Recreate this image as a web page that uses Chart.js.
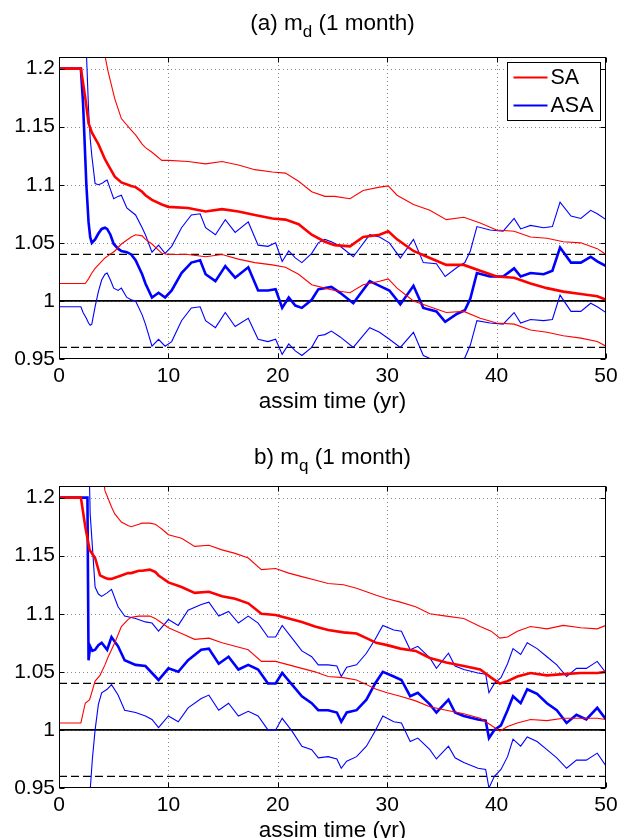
<!DOCTYPE html>
<html>
<head>
<meta charset="utf-8">
<script src="https://cdn.jsdelivr.net/npm/chart.js@4.4.1/dist/chart.umd.min.js"></script>
<style>
  html, body { margin: 0; padding: 0; background: #fff; overflow: hidden; }
  body { width: 627px; height: 838px; position: relative; font-family: "Liberation Sans", Arial, sans-serif; }
  canvas { position: absolute; left: 0; }
  .ttl { position: absolute; left: 59px; width: 547px; text-align: center; font-size: 22.5px; line-height: 22px; color: #000; white-space: nowrap; z-index: 2; }
  .ttl sub { font-size: 17px; vertical-align: baseline; position: relative; top: 7px; }
</style>
</head>
<body>
<canvas id="chartA" width="627" height="430" style="top:0"></canvas>
<canvas id="chartB" width="627" height="430" style="top:429px"></canvas>
<div class="ttl" style="top:12px">(a) m<sub>d</sub> (1 month)</div>
<div class="ttl" style="top:446px">b) m<sub>q</sub> (1 month)</div>
<script>
// axis ticks
const xTicks = [0, 10, 20, 30, 40, 50];
const yTicks = [0.95, 1, 1.05, 1.1, 1.15, 1.2];
const yTickLabels = ['0.95', '1', '1.05', '1.1', '1.15', '1.2'];
const legendLabels = ['SA', 'ASA'];

// reference levels (solid at 1, dashed at 1.04 / 0.96)
const refX = [0, 50];
const refSolid = 1;
const refDashed = [1.04, 0.96];

// (a) m_d : SA
const aSaTime = [0, 2, 2.4, 2.7, 3.0, 3.3, 3.6, 4.2, 4.5, 5.1, 5.7, 6.6, 7.0, 7.6, 7.9, 8.5, 9.4, 10, 11.8, 13.4, 14.9, 16.4, 17.9, 19.5, 20.7, 21.9, 23.1, 24.3, 25.2, 26.6, 27.8, 29.3, 30.1, 30.9, 32.4, 33.9, 35.4, 37, 38.5, 40, 41.6, 43.1, 44.6, 46.1, 47.7, 49.2, 50];
const aSaMean = [1.2, 1.2, 1.175, 1.153, 1.145, 1.140, 1.135, 1.122, 1.117, 1.107, 1.102, 1.099, 1.098, 1.094, 1.091, 1.087, 1.083, 1.081, 1.080, 1.077, 1.079, 1.077, 1.074, 1.071, 1.070, 1.066, 1.057, 1.051, 1.048, 1.047, 1.055, 1.057, 1.060, 1.053, 1.043, 1.037, 1.031, 1.031, 1.026, 1.021, 1.020, 1.015, 1.011, 1.008, 1.006, 1.004, 1.001];
const aSaUpper = [1.38, 1.38, 1.34, 1.31, 1.28, 1.26, 1.24, 1.211, 1.197, 1.174, 1.157, 1.147, 1.143, 1.135, 1.132, 1.128, 1.121, 1.121, 1.120, 1.118, 1.120, 1.117, 1.113, 1.111, 1.110, 1.103, 1.094, 1.090, 1.090, 1.088, 1.095, 1.098, 1.099, 1.091, 1.083, 1.078, 1.070, 1.072, 1.067, 1.061, 1.060, 1.055, 1.054, 1.051, 1.050, 1.045, 1.040];
const aSaLower = [1.015, 1.015, 1.015, 1.019, 1.024, 1.028, 1.031, 1.037, 1.039, 1.043, 1.049, 1.055, 1.057, 1.056, 1.053, 1.049, 1.041, 1.040, 1.040, 1.038, 1.040, 1.036, 1.033, 1.031, 1.029, 1.023, 1.014, 1.011, 1.009, 1.007, 1.014, 1.017, 1.019, 1.011, 1.000, 0.995, 0.990, 0.991, 0.985, 0.981, 0.980, 0.975, 0.973, 0.970, 0.968, 0.965, 0.961];

// (a) m_d : ASA
const aAsaTime = [0, 2.0, 2.2, 2.5, 2.7, 2.85, 3.0, 3.3, 3.6, 3.9, 4.2, 4.4, 4.7, 5.0, 5.4, 5.7, 6.2, 6.6, 7.0, 7.6, 7.9, 8.5, 9.1, 9.7, 10.3, 11.2, 12.1, 12.9, 13.4, 14.3, 15.2, 16.1, 17.3, 18.2, 19.1, 19.8, 20.4, 21.0, 21.6, 22.2, 23.1, 23.7, 24.3, 24.9, 25.7, 26.9, 28.4, 29.3, 30.2, 31.2, 32.4, 33.3, 34.5, 35.3, 36.4, 37.1, 37.6, 38.2, 39.4, 40.6, 41.6, 42.2, 43.1, 44.3, 45.1, 45.8, 46.8, 47.7, 48.6, 49.2, 50];
const aAsaMean = [1.2, 1.2, 1.17, 1.10, 1.068, 1.055, 1.050, 1.053, 1.058, 1.062, 1.063, 1.062, 1.057, 1.049, 1.045, 1.043, 1.042, 1.040, 1.035, 1.023, 1.015, 1.003, 1.007, 1.003, 1.009, 1.024, 1.033, 1.035, 1.023, 1.017, 1.030, 1.020, 1.029, 1.009, 1.009, 1.010, 0.994, 1.003, 0.996, 0.994, 1.001, 1.010, 1.011, 1.012, 1.007, 0.998, 1.017, 1.013, 1.009, 0.997, 1.013, 0.994, 0.991, 0.982, 0.989, 0.992, 1.002, 1.024, 1.021, 1.021, 1.028, 1.021, 1.024, 1.023, 1.026, 1.046, 1.033, 1.033, 1.038, 1.034, 1.030];
const aAsaUpper = [1.40, 1.40, 1.36, 1.215, 1.165, 1.14, 1.125, 1.101, 1.100, 1.101, 1.103, 1.104, 1.096, 1.088, 1.090, 1.091, 1.080, 1.077, 1.074, 1.063, 1.057, 1.042, 1.048, 1.041, 1.047, 1.063, 1.074, 1.075, 1.063, 1.057, 1.070, 1.059, 1.068, 1.048, 1.047, 1.050, 1.034, 1.043, 1.037, 1.033, 1.041, 1.050, 1.053, 1.051, 1.047, 1.038, 1.057, 1.055, 1.050, 1.037, 1.053, 1.033, 1.032, 1.021, 1.029, 1.033, 1.043, 1.064, 1.061, 1.060, 1.071, 1.062, 1.065, 1.063, 1.064, 1.085, 1.073, 1.071, 1.078, 1.075, 1.070];
const aAsaLower = [0.995, 0.995, 0.990, 0.985, 0.981, 0.979, 0.980, 0.995, 1.008, 1.018, 1.023, 1.024, 1.018, 1.011, 1.009, 1.011, 1.003, 1.001, 1.000, 0.988, 0.980, 0.961, 0.967, 0.961, 0.965, 0.983, 0.994, 0.995, 0.983, 0.977, 0.990, 0.978, 0.985, 0.967, 0.965, 0.967, 0.954, 0.963, 0.957, 0.953, 0.960, 0.970, 0.971, 0.974, 0.969, 0.960, 0.977, 0.973, 0.967, 0.960, 0.973, 0.953, 0.948, 0.941, 0.947, 0.951, 0.962, 0.983, 0.981, 0.980, 0.990, 0.981, 0.984, 0.983, 0.984, 1.005, 0.991, 0.991, 0.998, 0.995, 0.990];

// (b) m_q : SA
const bSaTime = [0, 2.0, 2.4, 2.8, 3.3, 3.75, 4.2, 4.5, 4.8, 5.1, 5.7, 6.3, 6.6, 7.3, 7.6, 8.3, 8.8, 9.1, 9.4, 10, 11.2, 12.4, 13.7, 14.9, 16.1, 17.3, 18.5, 19.8, 21, 22.2, 23.4, 24.6, 26, 27.2, 28.1, 29, 30, 31.2, 32.6, 33.9, 35.4, 37, 38.5, 39.5, 40.3, 41, 41.9, 43.1, 44.6, 46.1, 47.7, 49.2, 50];
const bSaMean = [1.2, 1.2, 1.175, 1.155, 1.148, 1.133, 1.131, 1.130, 1.130, 1.131, 1.133, 1.135, 1.135, 1.137, 1.137, 1.138, 1.136, 1.133, 1.131, 1.127, 1.123, 1.118, 1.119, 1.115, 1.113, 1.109, 1.100, 1.099, 1.096, 1.093, 1.089, 1.086, 1.084, 1.083, 1.079, 1.075, 1.073, 1.070, 1.068, 1.062, 1.058, 1.055, 1.052, 1.045, 1.040, 1.042, 1.046, 1.049, 1.047, 1.048, 1.049, 1.049, 1.050];
const bSaUpper = [1.38, 1.38, 1.35, 1.32, 1.28, 1.24, 1.206, 1.199, 1.192, 1.186, 1.179, 1.176, 1.175, 1.177, 1.178, 1.178, 1.177, 1.175, 1.173, 1.168, 1.165, 1.158, 1.159, 1.155, 1.152, 1.148, 1.138, 1.139, 1.135, 1.132, 1.129, 1.126, 1.125, 1.122, 1.119, 1.116, 1.113, 1.110, 1.106, 1.100, 1.098, 1.096, 1.089, 1.085, 1.079, 1.080, 1.085, 1.089, 1.087, 1.090, 1.088, 1.087, 1.090];
const bSaLower = [1.006, 1.006, 1.023, 1.026, 1.042, 1.047, 1.056, 1.063, 1.069, 1.075, 1.089, 1.095, 1.097, 1.098, 1.098, 1.098, 1.096, 1.094, 1.092, 1.088, 1.083, 1.078, 1.079, 1.075, 1.072, 1.069, 1.059, 1.059, 1.056, 1.053, 1.050, 1.046, 1.045, 1.043, 1.039, 1.035, 1.032, 1.029, 1.025, 1.020, 1.017, 1.014, 1.010, 1.004, 0.999, 1.003, 1.006, 1.009, 1.008, 1.010, 1.010, 1.010, 1.009];

// (b) m_q : ASA
const bAsaTime = [0, 2.6, 2.7, 2.85, 3.05, 3.3, 3.6, 3.9, 4.4, 4.8, 5.4, 6.0, 7.0, 7.9, 8.5, 9.1, 10.0, 10.9, 11.8, 13.0, 13.7, 14.6, 15.5, 16.4, 17.3, 18.2, 19.1, 19.8, 20.4, 21.3, 22.2, 23.1, 23.7, 24.6, 25.4, 25.8, 26.3, 27.2, 28.1, 28.9, 29.6, 30.6, 31.3, 32.1, 32.8, 33.9, 34.5, 35.6, 36.2, 37.0, 38.3, 39.0, 39.3, 39.8, 40.4, 41.0, 41.5, 42.2, 42.8, 43.7, 44.6, 45.5, 46.4, 47.3, 48.2, 49.2, 50];
const bAsaMean = [1.2, 1.2, 1.060, 1.072, 1.068, 1.069, 1.073, 1.075, 1.069, 1.080, 1.072, 1.060, 1.056, 1.055, 1.049, 1.043, 1.053, 1.050, 1.060, 1.069, 1.070, 1.057, 1.063, 1.052, 1.056, 1.052, 1.040, 1.040, 1.049, 1.039, 1.029, 1.023, 1.017, 1.017, 1.015, 1.007, 1.015, 1.017, 1.026, 1.040, 1.050, 1.046, 1.043, 1.029, 1.032, 1.022, 1.015, 1.026, 1.015, 1.012, 1.009, 1.008, 0.993, 1.000, 1.004, 1.017, 1.029, 1.023, 1.035, 1.031, 1.023, 1.017, 1.006, 1.013, 1.009, 1.019, 1.009];
const bAsaUpper = [1.42, 1.42, 1.25, 1.186, 1.158, 1.123, 1.117, 1.115, 1.118, 1.121, 1.106, 1.098, 1.096, 1.093, 1.092, 1.085, 1.095, 1.090, 1.103, 1.108, 1.110, 1.098, 1.102, 1.092, 1.098, 1.092, 1.080, 1.080, 1.090, 1.079, 1.068, 1.063, 1.056, 1.056, 1.055, 1.046, 1.054, 1.056, 1.066, 1.078, 1.090, 1.086, 1.085, 1.069, 1.072, 1.062, 1.053, 1.066, 1.055, 1.052, 1.049, 1.048, 1.032, 1.040, 1.045, 1.057, 1.070, 1.065, 1.075, 1.070, 1.063, 1.056, 1.046, 1.053, 1.053, 1.059, 1.049];
const bAsaLower = [0.90, 0.90, 0.90, 0.948, 0.975, 1.000, 1.022, 1.032, 1.035, 1.039, 1.030, 1.017, 1.015, 1.012, 1.009, 1.002, 1.012, 1.007, 1.019, 1.027, 1.030, 1.017, 1.023, 1.012, 1.016, 1.012, 1.000, 1.000, 1.010, 0.999, 0.986, 0.983, 0.976, 0.977, 0.975, 0.967, 0.973, 0.977, 0.986, 0.999, 1.012, 1.007, 1.006, 0.990, 0.993, 0.983, 0.975, 0.986, 0.976, 0.972, 0.967, 0.966, 0.950, 0.960, 0.966, 0.977, 0.992, 0.986, 0.994, 0.990, 0.983, 0.976, 0.967, 0.974, 0.974, 0.980, 0.969];

const RED = '#ff0000';
const BLUE = '#0000ff';
const FONT = '"Liberation Sans", Arial, sans-serif';

function pts(t, v) {
    return t.map((x, i) => ({ x: x, y: v[i] }));
}

function line(t, v, color, width, dash) {
    return {
        data: pts(t, v),
        borderColor: color,
        borderWidth: width,
        borderDash: dash || [],
        pointRadius: 0,
        fill: false,
        tension: 0
    };
}

// grid, box, inward ticks and legend box
const framePlugin = {
    id: 'frame',
    beforeDatasetsDraw(chart) {
        const { ctx, chartArea: a, scales: { x, y } } = chart;
        ctx.save();
        ctx.strokeStyle = '#8a8a8a';
        ctx.lineWidth = 1;
        ctx.setLineDash([1, 3]);
        xTicks.forEach(v => {
            const px = Math.round(x.getPixelForValue(v)) + 0.5;
            if (px < a.left + 2 || px > a.right - 2) return;
            ctx.beginPath(); ctx.moveTo(px, a.top); ctx.lineTo(px, a.bottom); ctx.stroke();
        });
        yTicks.forEach(v => {
            const py = Math.round(y.getPixelForValue(v)) + 0.5;
            if (py < a.top + 2 || py > a.bottom - 2) return;
            ctx.beginPath(); ctx.moveTo(a.left, py); ctx.lineTo(a.right, py); ctx.stroke();
        });
        ctx.restore();
    },
    afterDatasetsDraw(chart, args, opts) {
        const { ctx, chartArea: a, scales: { x, y } } = chart;
        ctx.save();
        ctx.strokeStyle = '#000';
        ctx.lineWidth = 1;
        ctx.setLineDash([]);
        const L = Math.round(a.left) + 0.5, R = Math.round(a.right) - 0.5;
        const T = Math.round(a.top) + 0.5, B = Math.round(a.bottom) - 0.5;
        ctx.strokeRect(L, T, R - L, B - T);
        const tk = 5;
        ctx.beginPath();
        xTicks.forEach(v => {
            const px = Math.round(x.getPixelForValue(v)) + 0.5;
            ctx.moveTo(px, B); ctx.lineTo(px, B - tk);
            ctx.moveTo(px, T); ctx.lineTo(px, T + tk);
        });
        yTicks.forEach(v => {
            const py = Math.round(y.getPixelForValue(v)) + 0.5;
            ctx.moveTo(L, py); ctx.lineTo(L + tk, py);
            ctx.moveTo(R, py); ctx.lineTo(R - tk, py);
        });
        ctx.stroke();

        if (opts && opts.legend) {
            const w = 93, h = 58;
            const bx = Math.round(a.right - 6 - w) + 0.5, by = Math.round(a.top + 5) + 0.5;
            ctx.fillStyle = '#fff';
            ctx.fillRect(bx, by, w, h);
            ctx.strokeRect(bx, by, w, h);
            const colors = [RED, BLUE];
            ctx.font = '21.5px ' + FONT;
            ctx.textBaseline = 'middle';
            ctx.textAlign = 'left';
            legendLabels.forEach((lab, i) => {
                const ly = by + 15 + i * 28;
                ctx.strokeStyle = colors[i];
                ctx.lineWidth = 2;
                ctx.beginPath(); ctx.moveTo(bx + 6, ly); ctx.lineTo(bx + 40, ly); ctx.stroke();
                ctx.fillStyle = '#000';
                ctx.fillText(lab, bx + 43, ly + 1);
            });
        }
        ctx.restore();
    }
};

function makeChart(id, sa, asa, withLegend) {
    const datasets = [
        line(sa.t, sa.upper, RED, 1.1),
        line(sa.t, sa.lower, RED, 1.1),
        line(sa.t, sa.mean, RED, 2.6),
        line(asa.t, asa.upper, BLUE, 1.1),
        line(asa.t, asa.lower, BLUE, 1.1),
        line(asa.t, asa.mean, BLUE, 2.6),
        line(refX, refX.map(() => refSolid), '#000', 1.6),
        line(refX, refX.map(() => refDashed[0]), '#000', 1.3, [8, 4]),
        line(refX, refX.map(() => refDashed[1]), '#000', 1.3, [8, 4])
    ];
    return new Chart(document.getElementById(id).getContext('2d'), {
        type: 'line',
        data: { datasets: datasets },
        plugins: [framePlugin],
        options: {
            responsive: false,
            animation: false,
            devicePixelRatio: 1,
            layout: { padding: { top: 57, right: 21, left: 0, bottom: 0 } },
            plugins: {
                legend: { display: false },
                tooltip: { enabled: false },
                frame: { legend: withLegend }
            },
            scales: {
                x: {
                    type: 'linear',
                    min: 0,
                    max: 50,
                    grid: { display: false, drawTicks: false },
                    border: { display: false },
                    afterBuildTicks: s => { s.ticks = xTicks.map(v => ({ value: v })); },
                    afterFit: s => { s.height = 71; },
                    ticks: {
                        padding: 5, color: '#000', maxRotation: 0, autoSkip: false,
                        font: { family: FONT, size: 21, lineHeight: 1.2 },
                        callback: v => String(v)
                    },
                    title: {
                        display: true, text: 'assim time (yr)', color: '#000',
                        font: { family: FONT, size: 22.5, lineHeight: 1.2 },
                        padding: { top: 0, bottom: 15 }
                    }
                },
                y: {
                    type: 'linear',
                    min: 0.95,
                    max: 1.21,
                    grid: { display: false, drawTicks: false },
                    border: { display: false },
                    afterBuildTicks: s => { s.ticks = yTicks.map(v => ({ value: v })); },
                    afterFit: s => { s.width = 59; },
                    ticks: {
                        padding: 4, color: '#000',
                        font: { family: FONT, size: 21, lineHeight: 1.2 },
                        callback: v => yTickLabels[yTicks.indexOf(v)]
                    }
                }
            }
        }
    });
}

makeChart('chartA',
    { t: aSaTime, mean: aSaMean, upper: aSaUpper, lower: aSaLower },
    { t: aAsaTime, mean: aAsaMean, upper: aAsaUpper, lower: aAsaLower },
    true);
makeChart('chartB',
    { t: bSaTime, mean: bSaMean, upper: bSaUpper, lower: bSaLower },
    { t: bAsaTime, mean: bAsaMean, upper: bAsaUpper, lower: bAsaLower },
    false);
</script>
</body>
</html>
